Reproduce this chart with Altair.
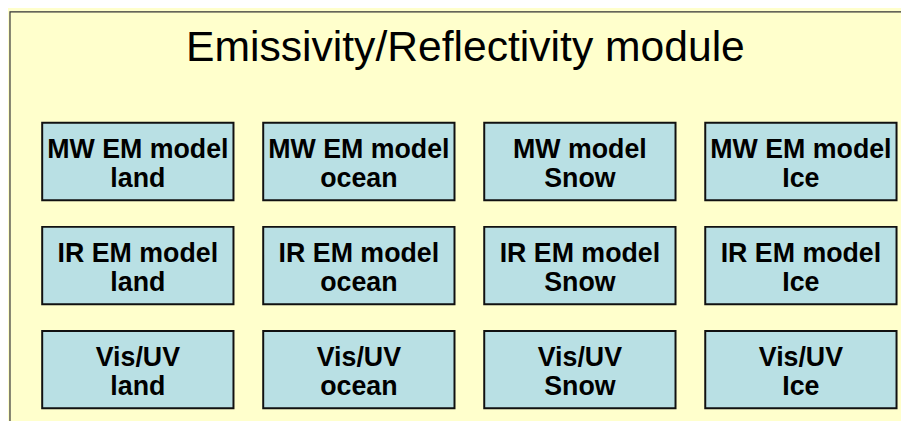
import altair as alt
import pandas as pd

title_text = ["Emissivity/Reflectivity module"]
columns = ["land", "ocean", "Snow", "Ice"]
rows = ["MW", "IR", "Vis/UV"]
row_of_box = ["MW"] * 4 + ["IR"] * 4 + ["Vis/UV"] * 4
col_of_box = columns * 3
box_labels = [
    "MW EM model\nland", "MW EM model\nocean", "MW model\nSnow", "MW EM model\nIce",
    "IR EM model\nland", "IR EM model\nocean", "IR EM model\nSnow", "IR EM model\nIce",
    "Vis/UV\nland", "Vis/UV\nocean", "Vis/UV\nSnow", "Vis/UV\nIce",
]

boxes = pd.DataFrame({"row": row_of_box, "col": col_of_box, "label": box_labels})

W, H = 901, 413
FONT = "Liberation Sans"

xs = alt.Scale(domain=columns, range=[34.5, 896.5], paddingInner=0.1345, paddingOuter=0)
ys = alt.Scale(domain=rows, range=[114, 402], paddingInner=0.257, paddingOuter=0)

frame = alt.Chart(alt.Data(values=[{"f": 1}])).mark_rect(
    fill=None, stroke="#333333", strokeWidth=1.2
).encode(x=alt.value(2), x2=alt.value(960), y=alt.value(2), y2=alt.value(470))

title = alt.Chart(pd.DataFrame({"t": title_text})).mark_text(
    font=FONT, fontSize=43, color="black", align="center", baseline="alphabetic"
).encode(x=alt.value(461.5), y=alt.value(52), text="t:N")

rects = alt.Chart(boxes).mark_rect(
    fill="#B9E0E4", stroke="#111111", strokeWidth=2
).encode(
    x=alt.X("col:N", scale=xs, axis=None),
    y=alt.Y("row:N", scale=ys, axis=None),
)

texts = alt.Chart(boxes).mark_text(
    font=FONT, fontSize=27, fontWeight="bold", color="black",
    align="center", baseline="alphabetic", lineBreak="\n", lineHeight=30, dy=-4
).encode(
    x=alt.X("col:N", scale=xs, axis=None),
    y=alt.Y("row:N", scale=ys, axis=None),
    text="label:N",
)

chart = alt.layer(frame, title, rects, texts).properties(
    width=W, height=H, background="#FFFFCC", padding=0,
    autosize=alt.AutoSizeParams(type="none"),
).configure_view(stroke=None)

chart.save("out.html", embed_options={"renderer": "svg", "actions": False})
